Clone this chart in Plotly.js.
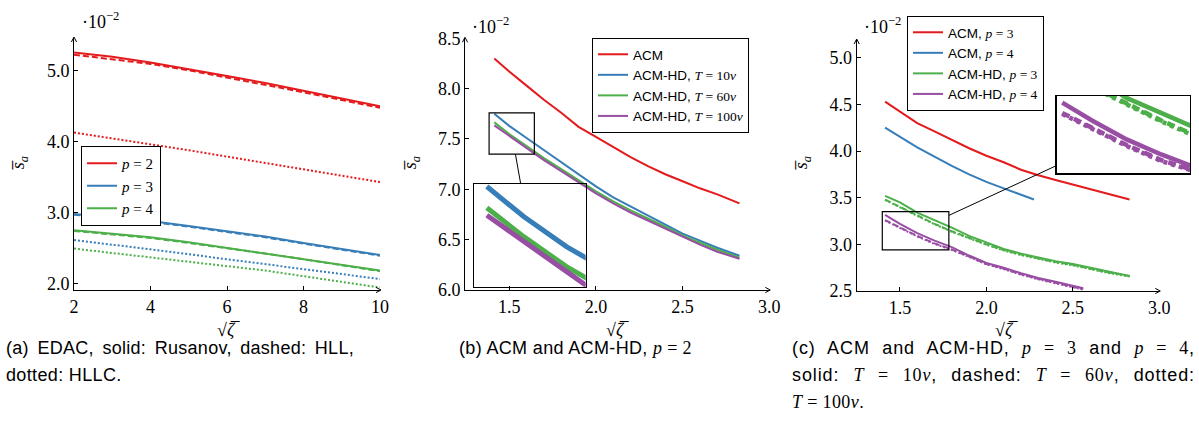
<!DOCTYPE html>
<html>
<head>
<meta charset="utf-8">
<script src="https://cdn.plot.ly/plotly-3.0.1.min.js"></script>
<style>html,body{margin:0;padding:0;background:#fff;}#plot{width:1199px;height:435px;}</style>
</head>
<body>
<div id="plot"></div>
<script>
// ---------- DATA ----------
// Panel (a): EDAC, x = sqrt(zeta)
const xA = [2, 3, 4, 5, 6, 7, 8, 9, 10];
const a_p2_rusanov = [5.26, 5.20, 5.12, 5.03, 4.93, 4.83, 4.72, 4.61, 4.50];
const a_p2_hll     = [5.23, 5.17, 5.10, 5.01, 4.91, 4.81, 4.70, 4.59, 4.48];
const a_p2_hllc    = [4.13, 4.05, 3.97, 3.88, 3.79, 3.70, 3.61, 3.52, 3.43];
const a_p3_rusanov = [2.98, 2.93, 2.88, 2.81, 2.74, 2.66, 2.57, 2.49, 2.40];
const a_p3_hll     = [2.97, 2.92, 2.87, 2.80, 2.73, 2.65, 2.56, 2.48, 2.39];
const a_p3_hllc    = [2.61, 2.55, 2.48, 2.41, 2.34, 2.27, 2.20, 2.13, 2.06];
const a_p4_rusanov = [2.75, 2.70, 2.65, 2.58, 2.50, 2.43, 2.35, 2.26, 2.18];
const a_p4_hll     = [2.74, 2.69, 2.64, 2.57, 2.50, 2.42, 2.34, 2.26, 2.17];
const a_p4_hllc    = [2.49, 2.43, 2.37, 2.31, 2.25, 2.18, 2.10, 2.02, 1.94];

// Panel (b): ACM and ACM-HD, p = 2
const xB = [1.414, 1.5, 1.6, 1.7, 1.8, 1.9, 2.0, 2.1, 2.2, 2.3, 2.4, 2.5, 2.6, 2.7, 2.828];
const b_acm    = [8.30, 8.17, 8.03, 7.89, 7.76, 7.62, 7.52, 7.42, 7.32, 7.23, 7.15, 7.08, 7.01, 6.95, 6.86];
const b_hd_t10 = [7.75, 7.63, 7.51, 7.39, 7.27, 7.15, 7.03, 6.92, 6.83, 6.74, 6.65, 6.56, 6.49, 6.42, 6.34];
const b_hd_t60 = [7.665, 7.55, 7.43, 7.31, 7.20, 7.09, 6.98, 6.88, 6.79, 6.71, 6.63, 6.54, 6.47, 6.40, 6.32];
const b_hd_t100= [7.635, 7.53, 7.41, 7.29, 7.18, 7.07, 6.96, 6.86, 6.77, 6.69, 6.61, 6.53, 6.45, 6.38, 6.31];

// Panel (c): ACM and ACM-HD, p = 3 and p = 4
const xC_acm3 = [1.414, 1.5, 1.6, 1.7, 1.8, 1.9, 2.0, 2.1, 2.2, 2.3, 2.4, 2.5, 2.6, 2.7, 2.828];
const c_acm3  = [4.53, 4.42, 4.30, 4.21, 4.12, 4.03, 3.95, 3.88, 3.80, 3.74, 3.69, 3.64, 3.59, 3.54, 3.48];
const xC_acm4 = [1.414, 1.5, 1.6, 1.7, 1.8, 1.9, 2.0, 2.1, 2.2, 2.275];
const c_acm4  = [4.25, 4.15, 4.04, 3.94, 3.84, 3.75, 3.67, 3.60, 3.53, 3.48];
const xC_hd3  = [1.414, 1.5, 1.6, 1.7, 1.8, 1.9, 2.0, 2.1, 2.2, 2.3, 2.4, 2.5, 2.6, 2.7, 2.828];
const c_hd3_t10  = [3.52, 3.45, 3.34, 3.26, 3.18, 3.09, 3.02, 2.95, 2.90, 2.86, 2.82, 2.79, 2.75, 2.71, 2.66];
const c_hd3_t60  = [3.48, 3.40, 3.31, 3.22, 3.14, 3.07, 3.00, 2.94, 2.89, 2.85, 2.81, 2.78, 2.74, 2.70, 2.66];
const c_hd3_t100 = [3.475, 3.395, 3.305, 3.215, 3.135, 3.065, 2.995, 2.935, 2.885, 2.845, 2.805, 2.775, 2.735, 2.695, 2.655];
const xC_hd4  = [1.414, 1.5, 1.6, 1.7, 1.8, 1.9, 2.0, 2.1, 2.2, 2.3, 2.4, 2.5, 2.56];
const c_hd4_t10  = [3.315, 3.22, 3.12, 3.04, 2.97, 2.88, 2.80, 2.75, 2.69, 2.64, 2.60, 2.56, 2.53];
const c_hd4_t60  = [3.26, 3.18, 3.09, 3.01, 2.945, 2.87, 2.79, 2.74, 2.68, 2.63, 2.59, 2.55, 2.52];
const c_hd4_t100 = [3.255, 3.175, 3.085, 3.005, 2.94, 2.865, 2.785, 2.735, 2.675, 2.625, 2.585, 2.545, 2.515];

// Tick values
const yTicksA = [2.0, 3.0, 4.0, 5.0];
const xTicksA = [2, 4, 6, 8, 10];
const yTicksB = [6.0, 6.5, 7.0, 7.5, 8.0, 8.5];
const xTicksBC = [1.5, 2.0, 2.5, 3.0];
const yTicksC = [2.5, 3.0, 3.5, 4.0, 4.5, 5.0];

// Zoom (spy) regions
const zoomB = {x: [1.384, 1.645], y: [7.35, 7.76]};
const zoomC = {x: [1.398, 1.783], y: [2.94, 3.35]};

// Captions (justified lines get a target right edge)
const SP = s => '<span style="font-family:Liberation Serif">' + s + '</span>';
const EQ = (a, b) => SP(a + ' = ' + b);
const capA = [{t: '(a) EDAC, solid: Rusanov, dashed: HLL,', j: 352}, {t: 'dotted: HLLC.'}];
const capB = [{t: '(b) ACM and ACM-HD, ' + EQ('<i>p</i>', '2')}];
const capC = [{t: '(c) ACM and ACM-HD, ' + EQ('<i>p</i>', '3') + ' and ' + EQ('<i>p</i>', '4') + ',', j: 1193},
              {t: 'solid: ' + EQ('<i>T</i>', '10<i>ν</i>') + ', dashed: ' + EQ('<i>T</i>', '60<i>ν</i>') + ', dotted:', j: 1193},
              {t: EQ('<i>T</i>', '100<i>ν</i>') + '.'}];

// ---------- STYLE / LAYOUT ----------
const W = 1199, H = 435;
const RED = '#e41a1c', BLUE = '#377eb8', GREEN = '#4daf4a', PURPLE = '#984ea3';
const SERIF = 'Liberation Serif', SANS = 'Liberation Sans';
const DASH = '6px,3px', DOT = '2px,2px';

const dom = {
  a:  {x: [74, 380],      y: [290, 38],    rx: [2, 10],     ry: [1.905, 5.466]},
  b:  {x: [465, 769.3],   y: [290, 38.3],  rx: [1.245, 3.0], ry: [6.0, 8.5]},
  c:  {x: [856.7, 1159.3],y: [291, 40],    rx: [1.25, 3.0],  ry: [2.5, 5.19]},
  ib: {x: [474, 585.7],   y: [286.7, 184], rx: zoomB.x, ry: zoomB.y},
  ic: {x: [1056.7, 1190], y: [173.3, 96],  rx: zoomC.x, ry: zoomC.y}
};
const px = p => p / W, py = p => 1 - p / H;

function mainAxis(d, isX, anchor, tickvals, fmt) {
  return {
    domain: isX ? [px(d.x[0]), px(d.x[1])] : [py(d.y[0]), py(d.y[1])],
    range: isX ? d.rx : d.ry, anchor: anchor,
    showline: true, linecolor: '#000', linewidth: 1,
    ticks: 'inside', ticklen: 4, tickwidth: 1, tickcolor: '#000',
    tickvals: tickvals, tickformat: fmt,
    showgrid: false, zeroline: false, fixedrange: true,
    tickfont: {family: SERIF, size: 18, color: '#000'}
  };
}
function insetAxis(d, isX, anchor) {
  return {
    domain: isX ? [px(d.x[0]), px(d.x[1])] : [py(d.y[0]), py(d.y[1])],
    range: isX ? d.rx : d.ry, anchor: anchor,
    showline: true, mirror: true, linecolor: '#000', linewidth: 1.3,
    ticks: '', showticklabels: false, showgrid: false, zeroline: false
  };
}

const traces = [];
function line(x, y, color, xa, ya, opts) {
  opts = opts || {};
  traces.push({
    x: x, y: y, type: 'scatter', mode: 'lines', xaxis: xa, yaxis: ya,
    name: opts.name || '', showlegend: !!opts.name, legend: opts.legend,
    line: {color: color, width: opts.width || 2, dash: opts.dash || 'solid'},
    hoverinfo: 'skip'
  });
}
const pleg = n => '<i>p</i> = ' + n;
// Panel (a)
line(xA, a_p2_rusanov, RED, 'x', 'y', {name: pleg(2), legend: 'legend'});
line(xA, a_p3_rusanov, BLUE, 'x', 'y', {name: pleg(3), legend: 'legend'});
line(xA, a_p4_rusanov, GREEN, 'x', 'y', {name: pleg(4), legend: 'legend'});
line(xA, a_p2_hll, RED, 'x', 'y', {dash: DASH});
line(xA, a_p3_hll, BLUE, 'x', 'y', {dash: DASH});
line(xA, a_p4_hll, GREEN, 'x', 'y', {dash: DASH});
line(xA, a_p2_hllc, RED, 'x', 'y', {dash: DOT});
line(xA, a_p3_hllc, BLUE, 'x', 'y', {dash: DOT});
line(xA, a_p4_hllc, GREEN, 'x', 'y', {dash: DOT});

// Panel (b)
const sT = t => 'ACM-HD, ' + SP('<i>T</i> = ' + t + '<i>ν</i>');
line(xB, b_acm, RED, 'x2', 'y2', {name: 'ACM', legend: 'legend2'});
line(xB, b_hd_t10, BLUE, 'x2', 'y2', {name: sT(10), legend: 'legend2'});
line(xB, b_hd_t60, GREEN, 'x2', 'y2', {name: sT(60), legend: 'legend2'});
line(xB, b_hd_t100, PURPLE, 'x2', 'y2', {name: sT(100), legend: 'legend2'});
// inset (b)
line(xB, b_hd_t10, BLUE, 'x4', 'y4', {width: 5});
line(xB, b_hd_t60, GREEN, 'x4', 'y4', {width: 5});
line(xB, b_hd_t100, PURPLE, 'x4', 'y4', {width: 5});

// Panel (c)
const sP = (m, n) => m + ', ' + SP('<i>p</i> = ' + n);
line(xC_acm3, c_acm3, RED, 'x3', 'y3', {name: sP('ACM', 3), legend: 'legend3'});
line(xC_acm4, c_acm4, BLUE, 'x3', 'y3', {name: sP('ACM', 4), legend: 'legend3'});
line(xC_hd3, c_hd3_t10, GREEN, 'x3', 'y3', {name: sP('ACM-HD', 3), legend: 'legend3'});
line(xC_hd4, c_hd4_t10, PURPLE, 'x3', 'y3', {name: sP('ACM-HD', 4), legend: 'legend3'});
line(xC_hd3, c_hd3_t60, GREEN, 'x3', 'y3', {dash: DASH});
line(xC_hd3, c_hd3_t100, GREEN, 'x3', 'y3', {dash: DOT});
line(xC_hd4, c_hd4_t60, PURPLE, 'x3', 'y3', {dash: DASH});
line(xC_hd4, c_hd4_t100, PURPLE, 'x3', 'y3', {dash: DOT});
// inset (c)
line(xC_hd3, c_hd3_t10, GREEN, 'x5', 'y5', {width: 4.5});
line(xC_hd3, c_hd3_t60, GREEN, 'x5', 'y5', {width: 4.5, dash: '8px,5px'});
line(xC_hd3, c_hd3_t100, GREEN, 'x5', 'y5', {width: 4.5, dash: '4px,4px'});
line(xC_hd4, c_hd4_t10, PURPLE, 'x5', 'y5', {width: 4.5});
line(xC_hd4, c_hd4_t60, PURPLE, 'x5', 'y5', {width: 4.5, dash: '8px,5px'});
line(xC_hd4, c_hd4_t100, PURPLE, 'x5', 'y5', {width: 4.5, dash: '4px,4px'});

// ---------- shapes: axis arrows, spy boxes, connectors ----------
const shapes = [];
function arrowShapes(d) {
  const xe = d.x[1] + 1, ye = d.y[0];
  const xt = d.x[0], yt = d.y[1] - 1;
  const L = 5, Wd = 2.6;
  shapes.push({type: 'path', xref: 'paper', yref: 'paper', line: {color: '#000', width: 1},
    path: `M ${px(xe - L)},${py(ye - Wd)} L ${px(xe)},${py(ye)} L ${px(xe - L)},${py(ye + Wd)}`});
  shapes.push({type: 'path', xref: 'paper', yref: 'paper', line: {color: '#000', width: 1},
    path: `M ${px(xt - Wd)},${py(yt + L)} L ${px(xt)},${py(yt)} L ${px(xt + Wd)},${py(yt + L)}`});
}
arrowShapes(dom.a); arrowShapes(dom.b); arrowShapes(dom.c);

function toPx(d, x, y) {
  return [d.x[0] + (x - d.rx[0]) / (d.rx[1] - d.rx[0]) * (d.x[1] - d.x[0]),
          d.y[0] + (y - d.ry[0]) / (d.ry[1] - d.ry[0]) * (d.y[1] - d.y[0])];
}
function spy(main, inset, zoom, xa, ya) {
  shapes.push({type: 'rect', xref: xa, yref: ya, x0: zoom.x[0], x1: zoom.x[1], y0: zoom.y[0], y1: zoom.y[1],
    line: {color: '#000', width: 1.2}});
  const p0 = toPx(main, zoom.x[0], zoom.y[1]), p1 = toPx(main, zoom.x[1], zoom.y[0]);
  const c0 = [(p0[0] + p1[0]) / 2, (p0[1] + p1[1]) / 2];
  const c1 = [(inset.x[0] + inset.x[1]) / 2, (inset.y[0] + inset.y[1]) / 2];
  const dxv = c1[0] - c0[0], dyv = c1[1] - c0[1];
  const hw0 = (p1[0] - p0[0]) / 2, hh0 = (p1[1] - p0[1]) / 2;
  const t0 = Math.min(Math.abs(hw0 / dxv), Math.abs(hh0 / dyv));
  const hw1 = (inset.x[1] - inset.x[0]) / 2, hh1 = Math.abs(inset.y[1] - inset.y[0]) / 2;
  const t1 = 1 - Math.min(Math.abs(hw1 / dxv), Math.abs(hh1 / dyv));
  shapes.push({type: 'line', xref: 'paper', yref: 'paper',
    x0: px(c0[0] + dxv * t0), y0: py(c0[1] + dyv * t0),
    x1: px(c0[0] + dxv * t1), y1: py(c0[1] + dyv * t1),
    line: {color: '#000', width: 1}});
}
spy(dom.b, dom.ib, zoomB, 'x2', 'y2');
spy(dom.c, dom.ic, zoomC, 'x3', 'y3');

// ---------- annotations ----------
const ann = [];
const justify = {};
const captionIdx = [];
function txt(x, y, text, o) {
  o = o || {};
  ann.push(Object.assign({xref: 'paper', yref: 'paper', x: px(x), y: py(y), text: text, showarrow: false,
    xanchor: 'center', yanchor: 'middle', font: {family: SERIF, size: 18, color: '#000'}}, o));
  return ann.length - 1;
}
const pow = '·10<sup>−2</sup>';
txt(80, 21, pow, {xanchor: 'left'});
txt(470, 26, pow, {xanchor: 'left'});
txt(862, 26, pow, {xanchor: 'left'});
const sbar = '<i>s\u0305<sub>a</sub></i>';
txt(19, 163, sbar, {textangle: -90});
txt(411, 163, sbar, {textangle: -90});
txt(802, 163, sbar, {textangle: -90});
const sqz = '√<i>ζ\u0305</i>';
txt(228, 330, sqz);
txt(617, 330, sqz);
txt(1007, 330, sqz);
const capFont = {family: SANS, size: 18, color: '#000'};
const lineY = [348, 375, 402];
function caption(x0, lines) {
  lines.forEach((l, i) => {
    const k = txt(x0, lineY[i], l.t, {xanchor: 'left', align: 'left', font: capFont});
    captionIdx.push(k);
    if (l.j) justify[k] = l.j - x0;
  });
}
caption(4, capA);
caption(457, capB);
caption(790, capC);

// ---------- layout ----------
const legBase = {bgcolor: '#fff', bordercolor: '#000', borderwidth: 1, xanchor: 'left', yanchor: 'top',
  itemwidth: 30, tracegroupgap: 0, traceorder: 'normal'};
const layout = {
  width: W, height: H, margin: {l: 0, r: 0, t: 0, b: 0},
  paper_bgcolor: '#fff', plot_bgcolor: 'rgba(0,0,0,0)', showlegend: true,
  xaxis: mainAxis(dom.a, true, 'y', xTicksA, 'd'),
  yaxis: mainAxis(dom.a, false, 'x', yTicksA, '.1f'),
  xaxis2: mainAxis(dom.b, true, 'y2', xTicksBC, '.1f'),
  yaxis2: mainAxis(dom.b, false, 'x2', yTicksB, '.1f'),
  xaxis3: mainAxis(dom.c, true, 'y3', xTicksBC, '.1f'),
  yaxis3: mainAxis(dom.c, false, 'x3', yTicksC, '.1f'),
  xaxis4: insetAxis(dom.ib, true, 'y4'),
  yaxis4: insetAxis(dom.ib, false, 'x4'),
  xaxis5: insetAxis(dom.ic, true, 'y5'),
  yaxis5: insetAxis(dom.ic, false, 'x5'),
  legend: Object.assign({}, legBase, {x: px(81), y: py(146), font: {family: SERIF, size: 15, color: '#000'}}),
  legend2: Object.assign({}, legBase, {x: px(592), y: py(38), font: {family: SANS, size: 13.5, color: '#000'}}),
  legend3: Object.assign({}, legBase, {x: px(907), y: py(16), font: {family: SANS, size: 13.5, color: '#000'}}),
  shapes: shapes, annotations: ann
};
Plotly.newPlot('plot', traces, layout, {staticPlot: true, displayModeBar: false}).then(gd => {
  // Caption typography: slight tracking (wider reference font), and justification of full lines.
  gd.querySelectorAll('g.annotation').forEach(g => {
    const idx = +g.getAttribute('data-index');
    if (captionIdx.indexOf(idx) < 0) return;
    const t = g.querySelector('text.annotation-text');
    if (!t) return;
    const nChars = t.textContent.length;
    if (!(idx in justify)) { t.style.letterSpacing = '0.35px'; return; }
    const target = justify[idx];
    const w0 = t.getBBox().width;
    const extra = target - w0;
    if (extra <= 0) return;
    const ls = Math.min(0.9, 0.4 * extra / nChars);
    t.style.letterSpacing = ls + 'px';
    const w1 = t.getBBox().width;
    const n = (t.textContent.match(/ /g) || []).length;
    if (n > 0 && target > w1) t.style.wordSpacing = ((target - w1) / n) + 'px';
  });
});
</script>
</body>
</html>
